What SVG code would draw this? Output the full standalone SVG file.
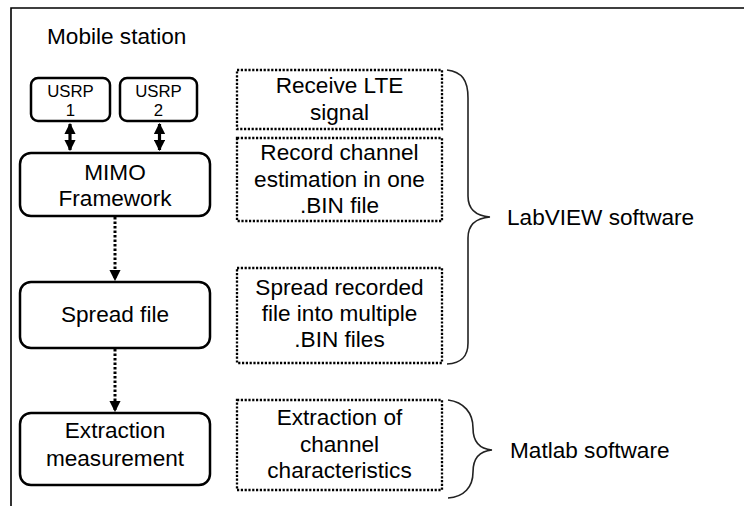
<svg xmlns="http://www.w3.org/2000/svg" width="744" height="506" viewBox="0 0 744 506">
<defs>
<style>
text{font-family:"Liberation Sans",Arial,sans-serif;font-size:22.6px;fill:#000;text-anchor:middle}
.small{font-size:16.8px}
.left{text-anchor:start}
.solid{fill:#fff;stroke:#000;stroke-width:2.5}
.dot{fill:#fff;stroke:#000;stroke-width:2.3;stroke-dasharray:2.2 1.6}
.brace{fill:none;stroke:#222;stroke-width:1.6}
.dline{fill:none;stroke:#000;stroke-width:3;stroke-dasharray:2.5 2}
.thick{fill:none;stroke:#000;stroke-width:3.2}
</style>
<marker id="ah" viewBox="0 0 10 10" refX="9" refY="5" markerWidth="3.6" markerHeight="3.6" orient="auto-start-reverse" markerUnits="strokeWidth"><path d="M0,0 L10,5 L0,10 z" fill="#000"/></marker>
<marker id="ad" viewBox="0 0 10 10" refX="9" refY="5" markerWidth="3.8" markerHeight="3.8" orient="auto" markerUnits="strokeWidth"><path d="M0,0 L10,5 L0,10 z" fill="#000"/></marker>
</defs>
<rect width="744" height="506" fill="#fff"/>
<g id="frame">
<path d="M11,506 L11,8 L744,8" fill="none" stroke="#000" stroke-width="1.6"/>
<text class="left" x="47" y="44">Mobile station</text>
</g>
<g id="usrp1"><rect class="solid" x="31" y="78" width="79" height="43" rx="7"/><text class="small" x="70.5" y="97">USRP</text><text class="small" x="70.5" y="116">1</text></g>
<g id="usrp2"><rect class="solid" x="120" y="78" width="77" height="43" rx="7"/><text class="small" x="158.5" y="97">USRP</text><text class="small" x="158.5" y="116">2</text></g>
<g id="mimo"><rect class="solid" x="20" y="153" width="190" height="63" rx="11"/><text x="115" y="180">MIMO</text><text x="115" y="206">Framework</text></g>
<g id="spread"><rect class="solid" x="20" y="282" width="190" height="66" rx="11"/><text x="115" y="322">Spread file</text></g>
<g id="extraction"><rect class="solid" x="20" y="413" width="190" height="72" rx="11"/><text x="115" y="438">Extraction</text><text x="115" y="466">measurement</text></g>
<g id="receive"><rect class="dot" x="237" y="70" width="205" height="59"/><text x="339.5" y="93">Receive LTE</text><text x="339.5" y="120">signal</text></g>
<g id="record"><rect class="dot" x="237" y="138" width="205" height="83"/><text x="339.5" y="160">Record channel</text><text x="339.5" y="187">estimation in one</text><text x="339.5" y="213">.BIN file</text></g>
<g id="spreadrec"><rect class="dot" x="237" y="268" width="205" height="95"/><text x="339.5" y="295">Spread recorded</text><text x="339.5" y="321">file into multiple</text><text x="339.5" y="347">.BIN files</text></g>
<g id="extractchar"><rect class="dot" x="237" y="400" width="205" height="90"/><text x="339.5" y="425">Extraction of</text><text x="339.5" y="452">channel</text><text x="339.5" y="478">characteristics</text></g>
<g id="labview"><path class="brace" d="M447,70 C462,72 468,80 468,98 L468,196 C468,210 477,216 490,217 C477,218 468,224 468,238 L468,343 C468,356 462,363 447,364"/><text class="left" x="507" y="225">LabVIEW software</text></g>
<g id="matlab"><path class="brace" d="M448,400 C464,402 473,413 473,428 C473,442 480,449 492,450 C480,451 473,458 473,472 C473,487 464,497 448,498"/><text class="left" x="510" y="458">Matlab software</text></g>
<g id="connectors">
<line class="thick" x1="70" y1="124" x2="70" y2="150" marker-start="url(#ah)" marker-end="url(#ah)"/>
<line class="thick" x1="159.5" y1="124" x2="159.5" y2="150" marker-start="url(#ah)" marker-end="url(#ah)"/>
<line class="dline" x1="115" y1="217" x2="115" y2="280" marker-end="url(#ad)"/>
<line class="dline" x1="115" y1="349" x2="115" y2="411" marker-end="url(#ad)"/>
</g>
</svg>
